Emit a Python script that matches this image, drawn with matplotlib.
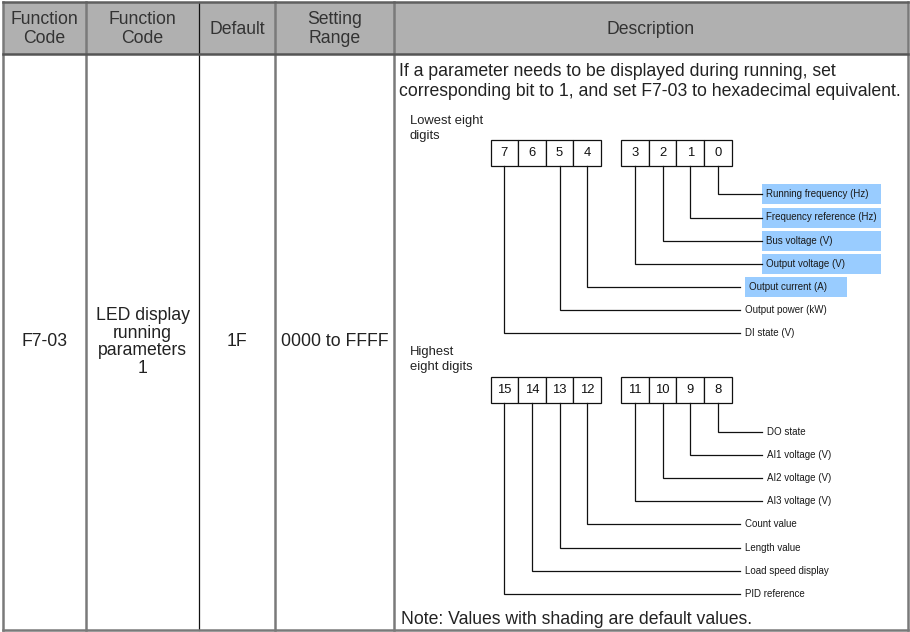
import matplotlib
matplotlib.use("Agg")
import matplotlib.pyplot as plt
from matplotlib.patches import Rectangle

# table content
headers = ["Function\nCode", "Function\nCode", "Default", "Setting\nRange", "Description"]
row_cells = ["F7-03", "LED display\nrunning\nparameters\n1", "1F", "0000 to FFFF"]
desc_lines = ["If a parameter needs to be displayed during running, set",
              "corresponding bit to 1, and set F7-03 to hexadecimal equivalent."]
note = "Note: Values with shading are default values."

low_title = "Lowest eight\ndigits"
high_title = "Highest\neight digits"
low_bits = [7, 6, 5, 4, 3, 2, 1, 0]
high_bits = [15, 14, 13, 12, 11, 10, 9, 8]
low_labels = [(0, "Running frequency (Hz)"), (1, "Frequency reference (Hz)"),
              (2, "Bus voltage (V)"), (3, "Output voltage (V)"),
              (4, "Output current (A)"), (5, "Output power (kW)"),
              (7, "DI state (V)")]
high_labels = [(8, "DO state"), (9, "AI1 voltage (V)"), (10, "AI2 voltage (V)"),
               (11, "AI3 voltage (V)"), (12, "Count value"), (13, "Length value"),
               (14, "Load speed display"), (15, "PID reference")]
shaded = [0, 1, 2, 3, 4]

# layout (pixels)
W, H = 910, 632
COLS = [3, 86, 199, 275, 394, 908]
HEAD_TOP, HEAD_BOT, BOTTOM = 2, 54, 630
CELL = 27.6
GROUP_X = [490.5, 621.2]
BOX_H = 26
ROW_GAP = 23.2
BLUE = "#99ccff"
FONT = ["Liberation Sans", "DejaVu Sans"]

plt.rcParams["font.family"] = FONT
fig = plt.figure(figsize=(W / 100, H / 100), dpi=100)
ax = fig.add_axes([0, 0, 1, 1])
ax.set_xlim(0, W)
ax.set_ylim(H, 0)
ax.axis("off")

# header band + grid
ax.add_patch(Rectangle((COLS[0], HEAD_TOP), COLS[-1] - COLS[0], HEAD_BOT - HEAD_TOP,
             facecolor="#b0b0b0", edgecolor="none", zorder=1))
for i, x in enumerate(COLS):
    if i == 2:
        ax.plot([x, x], [HEAD_TOP, BOTTOM], color="#111111", lw=0.9, zorder=3)
    else:
        ax.plot([x, x], [HEAD_TOP, BOTTOM], color="#7a7a7a", lw=1.8, zorder=3)
ax.plot([COLS[0], COLS[-1]], [HEAD_TOP, HEAD_TOP], color="#606060", lw=1.8, zorder=3)
ax.plot([COLS[0], COLS[-1]], [HEAD_BOT, HEAD_BOT], color="#555555", lw=1.8, zorder=3)
ax.plot([COLS[0], COLS[-1]], [BOTTOM, BOTTOM], color="#7a7a7a", lw=1.8, zorder=3)

for i, h in enumerate(headers):
    cx = (COLS[i] + COLS[i + 1]) / 2
    ax.text(cx, (HEAD_TOP + HEAD_BOT) / 2 + 1, h, ha="center", va="center",
            fontsize=12.7, color="#333333", linespacing=1.15)

mid = (HEAD_BOT + BOTTOM) / 2
for i, c in enumerate(row_cells):
    cx = (COLS[i] + COLS[i + 1]) / 2
    ax.text(cx, mid, c, ha="center", va="center", fontsize=12.7,
            color="#222222", linespacing=1.05)

for k, line in enumerate(desc_lines):
    ax.text(399, 71 + 20 * k, line, ha="left", va="center", fontsize=12.7, color="#222222")
ax.text(401, 620, note, ha="left", va="center", fontsize=12.7, color="#222222")


def bit_diagram(title, title_y, bits, labels, box_top):
    ax.text(410, title_y, title, ha="left", va="top", fontsize=9.4,
            color="#222222", linespacing=1.3)
    xs = {}
    for j, b in enumerate(bits):
        x0 = GROUP_X[j // 4] + (j % 4) * CELL
        ax.add_patch(Rectangle((x0, box_top), CELL, BOX_H, facecolor="white",
                     edgecolor="#111111", lw=0.9, zorder=4))
        ax.text(x0 + CELL / 2, box_top + BOX_H / 2, str(b), ha="center",
                va="center", fontsize=9.4, color="#111111", zorder=5)
        xs[b] = (x0 + CELL / 2, j // 4)
    y = box_top + BOX_H + 28.3
    for b, lab in labels:
        x, grp = xs[b]
        end = 762 if grp == 1 else 740
        ax.plot([x, x, end], [box_top + BOX_H, y, y], color="#111111", lw=0.9,
                zorder=4, solid_joinstyle="miter")
        if b in shaded:
            bx = end if grp == 1 else 745
            bw = 119 if grp == 1 else 102
            ax.add_patch(Rectangle((bx, y - 10), bw, 20, facecolor=BLUE,
                         edgecolor="none", zorder=2))
            ax.text(bx + 4, y, lab, ha="left", va="center", fontsize=7,
                    color="#1a1a1a", zorder=5)
        else:
            ax.text(end + 5, y, lab, ha="left", va="center", fontsize=7,
                    color="#1a1a1a", zorder=5)
        y += ROW_GAP


bit_diagram(low_title, 115, low_bits, low_labels, 140)
bit_diagram(high_title, 346, high_bits, high_labels, 377.3)

fig.savefig("out.png", dpi=100)
